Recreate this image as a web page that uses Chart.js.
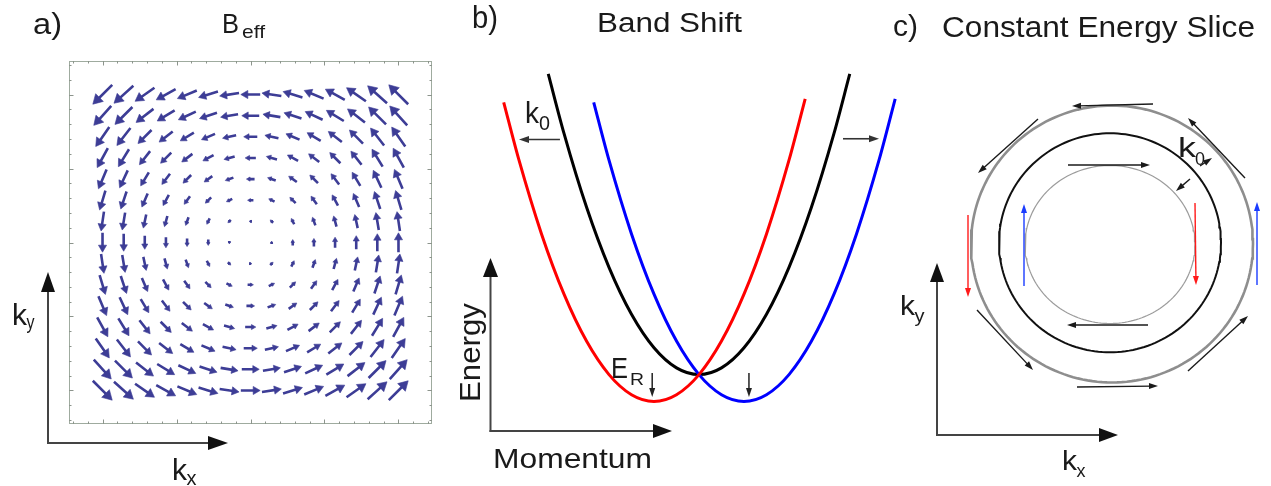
<!DOCTYPE html>
<html><head><meta charset="utf-8">
<script src="https://cdn.jsdelivr.net/npm/chart.js@4.4.1/dist/chart.umd.min.js"></script>
<style>
html,body{margin:0;padding:0;background:#fff;overflow:hidden;width:1271px;height:486px;}
canvas{position:absolute;}
#ov{position:absolute;left:0;top:0;pointer-events:none;}
#ov text{font-family:"Liberation Sans",Arial,Helvetica,sans-serif;fill:#1a1a1a;}
</style></head><body>
<canvas id="ca" width="363" height="363" style="left:69px;top:61px"></canvas>
<canvas id="cb" width="450" height="402" style="left:474px;top:53px"></canvas>
<canvas id="cc" width="320" height="320" style="left:950px;top:84px"></canvas>
<svg id="ov" width="1271" height="486" xmlns="http://www.w3.org/2000/svg">
  <!-- panel a axes -->
  <line x1="48" y1="444" x2="48" y2="290" stroke="#444" stroke-width="2"/>
  <polygon points="48,272 41,292 55,292" fill="#111"/>
  <line x1="47" y1="443" x2="210" y2="443" stroke="#444" stroke-width="2"/>
  <polygon points="228,443 208,436 208,450" fill="#111"/>
  <!-- panel b axes -->
  <line x1="490.5" y1="432" x2="490.5" y2="276" stroke="#444" stroke-width="2"/>
  <polygon points="490.5,258 483,277 498,277" fill="#111"/>
  <line x1="489.5" y1="431" x2="655" y2="431" stroke="#444" stroke-width="2"/>
  <polygon points="672,431 653,424 653,438" fill="#111"/>
  <!-- panel c axes -->
  <line x1="937" y1="436" x2="937" y2="281" stroke="#444" stroke-width="2"/>
  <polygon points="937,263 930,282 944,282" fill="#111"/>
  <line x1="936" y1="435" x2="1101" y2="435" stroke="#444" stroke-width="2"/>
  <polygon points="1118,435 1099,428 1099,442" fill="#111"/>

  <!-- texts -->
  <text x="33" y="34" font-size="29" textLength="29" lengthAdjust="spacingAndGlyphs">a)</text>
  <text x="222" y="33" font-size="27" textLength="17" lengthAdjust="spacingAndGlyphs">B</text>
  <text x="242" y="37.5" font-size="19" textLength="23" lengthAdjust="spacingAndGlyphs">eff</text>
  <text x="472" y="28" font-size="31" textLength="26" lengthAdjust="spacingAndGlyphs">b)</text>
  <text x="597" y="32" font-size="27" textLength="145" lengthAdjust="spacingAndGlyphs">Band Shift</text>
  <text x="893" y="35.5" font-size="29" textLength="25" lengthAdjust="spacingAndGlyphs">c)</text>
  <text x="942" y="36.5" font-size="29" textLength="313" lengthAdjust="spacingAndGlyphs">Constant Energy Slice</text>
  <text transform="translate(480,402) rotate(-90)" x="0" y="0" font-size="30" textLength="99" lengthAdjust="spacingAndGlyphs">Energy</text>
  <text x="493" y="468" font-size="28" textLength="159" lengthAdjust="spacingAndGlyphs">Momentum</text>
  <text x="611" y="377.5" font-size="29" textLength="17" lengthAdjust="spacingAndGlyphs">E</text>
  <text x="630" y="385" font-size="17" textLength="14" lengthAdjust="spacingAndGlyphs">R</text>
  <text x="525" y="123" font-size="29" textLength="14" lengthAdjust="spacingAndGlyphs">k</text>
  <text x="539" y="130" font-size="21" textLength="11" lengthAdjust="spacingAndGlyphs">0</text>
  <text x="12" y="325" font-size="30" textLength="15" lengthAdjust="spacingAndGlyphs">k</text>
  <text x="26.5" y="329" font-size="20" textLength="8" lengthAdjust="spacingAndGlyphs">y</text>
  <text x="172" y="480" font-size="30" textLength="15" lengthAdjust="spacingAndGlyphs">k</text>
  <text x="186.5" y="485" font-size="21" textLength="10" lengthAdjust="spacingAndGlyphs">x</text>
  <text x="900" y="315" font-size="28" textLength="15" lengthAdjust="spacingAndGlyphs">k</text>
  <text x="914.5" y="322" font-size="19" textLength="10" lengthAdjust="spacingAndGlyphs">y</text>
  <text x="1062" y="470" font-size="28" textLength="15" lengthAdjust="spacingAndGlyphs">k</text>
  <text x="1076.5" y="477" font-size="19" textLength="9" lengthAdjust="spacingAndGlyphs">x</text>
  <text x="1178" y="157" font-size="27" textLength="18" lengthAdjust="spacingAndGlyphs">k</text>
  <text x="1195" y="165" font-size="19" textLength="10" lengthAdjust="spacingAndGlyphs">0</text>
</svg>
<script>
// ---------------- DATA ----------------
// Panel a: grid of sample points (same for kx and ky)
const gridK = [-2.0,-1.714,-1.429,-1.143,-0.857,-0.571,-0.286,0,0.286,0.571,0.857,1.143,1.429,1.714,2.0];
// x-component of B_eff for each row (bottom -> top)
const bxByRow = [1.0,0.9,0.7,0.55,0.42,0.3,0.15,0,-0.15,-0.3,-0.42,-0.55,-0.7,-0.9,-1.0];
// y-component of B_eff for each column (left -> right)
const byByCol = [-1.0,-0.9,-0.7,-0.55,-0.42,-0.3,-0.15,0,0.15,0.3,0.42,0.55,0.7,0.9,1.0];
const frameMajor = [-2,-1,0,1,2];
const frameMinor = [-2.4,-2.2,-1.8,-1.6,-1.4,-1.2,-0.8,-0.6,-0.4,-0.2,0.2,0.4,0.6,0.8,1.2,1.4,1.6,1.8,2.2,2.4];

// Panel b: bands (momentum in units of k0, energy in units of E_R)
const blackK = [-3.35,-3,-2.5,-2,-1.5,-1,-0.5,0,0.5,1,1.5,2,2.5,3,3.35];
const blackE = [11.22,9,6.25,4,2.25,1,0.25,0,0.25,1,2.25,4,6.25,9,11.22];
const redK   = [-4.34,-4,-3.5,-3,-2.5,-2,-1.5,-1,-0.5,0,0.5,1,1.5,2,2.36];
const redE   = [10.16,8,5.25,3,1.25,0,-0.75,-1,-0.75,0,1.25,3,5.25,8,10.29];
const blueK  = [-2.34,-2,-1.5,-1,-0.5,0,0.5,1,1.5,2,2.5,3,3.5,4,4.36];
const blueE  = [10.16,8,5.25,3,1.25,0,-0.75,-1,-0.75,0,1.25,3,5.25,8,10.29];
// annotation arrows [k1,E1,k2,E2]
const bandShiftArrows = [[-3.09,8.77,-4.0,8.77],[3.2,8.8,4.0,8.8]];
const bandERArrows = [[-1.04,0.06,-1.04,-0.84],[1.11,0.06,1.11,-0.84]];

// Panel c: constant energy rings (kx, ky offsets from centre)
const ringNames = ['outer','kF','inner'];
const ringRx = [141,111,85];
const ringRy = [138.5,109.5,79];
const ringCx = [2,0,0];
const ringCy = [0,1.2,-0.5];
// spin arrows [kx1,ky1,kx2,ky2,colour-key]
const spinArrows = [
  [43,140,-38,138,'k'],[-72,125,-132,71,'k'],[-142,29,-142,-53,'r'],[-133,-66,-77,-126,'k'],
  [-33,-143,48,-142,'k'],[78,-127,138,-72,'k'],[147,-41,147,42,'b'],[135,66,78,126,'k'],
  [-42,79,40,79,'k'],[-86,-42,-86,40,'b'],[85,41,86,-41,'r'],[38,-81,-43,-81,'k'],
  [80,65,66,53,'k'],[90,78,102,86,'k']
];

// ---------------- HELPERS ----------------
function drawArrow(ctx,x1,y1,x2,y2,color,lw,hl,hw){
  const dx=x2-x1, dy=y2-y1, L=Math.hypot(dx,dy); if(!L) return;
  const ux=dx/L, uy=dy/L;
  ctx.save();
  ctx.strokeStyle=color; ctx.fillStyle=color; ctx.lineWidth=lw; ctx.lineCap='butt';
  ctx.beginPath(); ctx.moveTo(x1,y1); ctx.lineTo(x2-ux*hl*0.7,y2-uy*hl*0.7); ctx.stroke();
  ctx.beginPath(); ctx.moveTo(x2,y2);
  ctx.lineTo(x2-ux*hl-uy*hw/2, y2-uy*hl+ux*hw/2);
  ctx.lineTo(x2-ux*hl+uy*hw/2, y2-uy*hl-ux*hw/2);
  ctx.closePath(); ctx.fill();
  ctx.restore();
}
function arrowPlugin(id,list,style){
  return {id, afterDatasetsDraw(chart){
    const xs=chart.scales.x, ys=chart.scales.y, ctx=chart.ctx;
    list.forEach(a=>{
      const col = style.colors ? style.colors[a[4]] : style.color;
      drawArrow(ctx,xs.getPixelForValue(a[0]),ys.getPixelForValue(a[1]),
        xs.getPixelForValue(a[2]),ys.getPixelForValue(a[3]),col,style.lw,style.hl,style.hw);
    });
  }};
}
const hiddenScales = (x0,x1,y0,y1)=>({
  x:{type:'linear',min:x0,max:x1,display:false},
  y:{type:'linear',min:y0,max:y1,display:false}
});
const baseOpts = {responsive:false,animation:false,events:[],
  layout:{padding:0,autoPadding:false},plugins:{legend:{display:false},tooltip:{enabled:false}}};

// ---------------- PANEL A ----------------
const A_LIM = 2.453, A_PX = 363/(2*A_LIM), ARROW_SCALE = 0.262, FIELD_COL = '#3d3d96';
const shafts=[], heads=[], headR=[], headRot=[];
for(let j=0;j<gridK.length;j++){
  for(let i=0;i<gridK.length;i++){
    const vx=bxByRow[j]*ARROW_SCALE, vy=byByCol[i]*ARROW_SCALE;
    const len=Math.hypot(vx,vy); if(len===0) continue;
    const ux=vx/len, uy=vy/len, Lpx=len*A_PX;
    const cx=gridK[i], cy=gridK[j];
    const tx=cx+vx/2, ty=cy+vy/2;
    const hl=(0.3*Lpx+1.2)/A_PX, r=hl/1.5;
    shafts.push({x:cx-vx/2,y:cy-vy/2},{x:tx-ux*hl*0.6,y:ty-uy*hl*0.6},{x:NaN,y:NaN});
    heads.push({x:tx-ux*r,y:ty-uy*r}); headR.push(r*A_PX); headRot.push(Math.atan2(ux,uy)*180/Math.PI);
  }
}
const framePlugin = {id:'frame', afterDraw(chart){
  const ctx=chart.ctx, a=chart.chartArea, xs=chart.scales.x, ys=chart.scales.y;
  ctx.save(); ctx.strokeStyle='#9fab9f'; ctx.lineWidth=1;
  ctx.strokeRect(a.left+0.5,a.top+0.5,a.right-a.left-1,a.bottom-a.top-1);
  ctx.strokeStyle='#8c948c';
  const tick=(v,len)=>{
    const px=Math.round(xs.getPixelForValue(v))+0.5, py=Math.round(ys.getPixelForValue(v))+0.5;
    ctx.beginPath();
    ctx.moveTo(px,a.top); ctx.lineTo(px,a.top+len);
    ctx.moveTo(px,a.bottom); ctx.lineTo(px,a.bottom-len);
    ctx.moveTo(a.left,py); ctx.lineTo(a.left+len,py);
    ctx.moveTo(a.right,py); ctx.lineTo(a.right-len,py);
    ctx.stroke();
  };
  frameMajor.forEach(v=>tick(v,4.5)); frameMinor.forEach(v=>tick(v,2.5));
  ctx.restore();
}};
new Chart(document.getElementById('ca'),{
  type:'scatter',
  data:{datasets:[
    {data:heads,pointStyle:'triangle',pointRadius:headR,pointRotation:headRot,
     pointBackgroundColor:FIELD_COL,pointBorderColor:FIELD_COL,pointBorderWidth:0.6,showLine:false,clip:false},
    {data:shafts,showLine:true,spanGaps:false,borderColor:FIELD_COL,borderWidth:2.6,pointRadius:0,clip:false}
  ]},
  options:{...baseOpts,scales:hiddenScales(-A_LIM,A_LIM,-A_LIM,A_LIM)},
  plugins:[framePlugin]
});

// ---------------- PANEL B ----------------
const toPts=(ks,es)=>ks.map((k,i)=>({x:k,y:es[i]}));
const bandDs=(ks,es,col)=>({data:toPts(ks,es),showLine:true,borderColor:col,borderWidth:3,
  pointRadius:0,cubicInterpolationMode:'monotone',clip:false});
new Chart(document.getElementById('cb'),{
  type:'scatter',
  data:{datasets:[bandDs(redK,redE,'#ff0000'),bandDs(blueK,blueE,'#0000ff'),bandDs(blackK,blackE,'#000000')]},
  options:{...baseOpts,scales:hiddenScales(-5,5,-3,12)},
  plugins:[arrowPlugin('shift',bandShiftArrows,{color:'#333',lw:1.6,hl:10,hw:7}),
           arrowPlugin('er',bandERArrows,{color:'#222',lw:1.5,hl:9,hw:6})]
});

// ---------------- PANEL C ----------------
const ringStyles=[{c:'#8e8e8e',w:2.6},{c:'#111111',w:2},{c:'#9c9c9c',w:1.2}];
const ringDs = ringNames.map((n,r)=>{
  const pts=[];
  for(let s=0;s<=180;s++){const t=s/180*2*Math.PI; pts.push({x:ringCx[r]+ringRx[r]*Math.cos(t),y:ringCy[r]+ringRy[r]*Math.sin(t)});}
  return {label:n,data:pts,showLine:true,borderColor:ringStyles[r].c,borderWidth:ringStyles[r].w,pointRadius:0,tension:0,clip:false};
});
new Chart(document.getElementById('cc'),{
  type:'scatter',
  data:{datasets:ringDs},
  options:{...baseOpts,scales:hiddenScales(-160,160,-160,160)},
  plugins:[arrowPlugin('spin',spinArrows,{colors:{k:'#1a1a1a',r:'#ff1a1a',b:'#1a3cff'},lw:1.4,hl:9,hw:6})]
});
</script>
</body></html>
